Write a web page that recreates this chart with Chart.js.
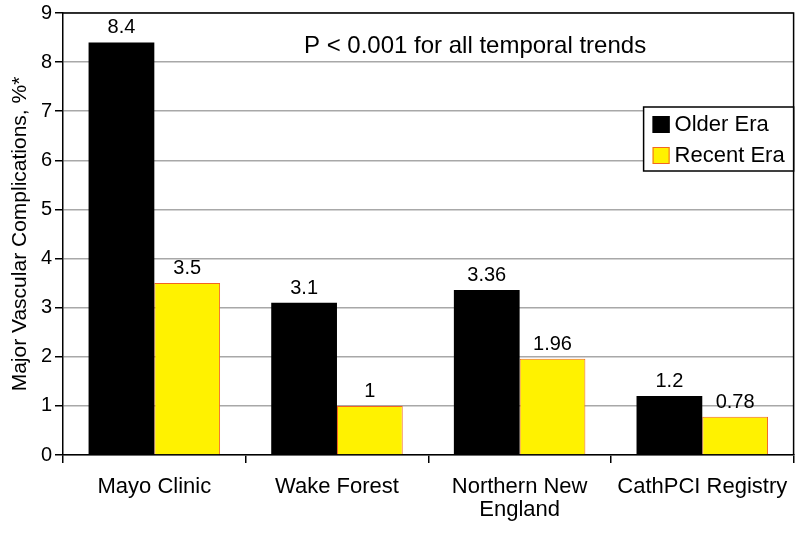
<!DOCTYPE html>
<html>
<head>
<meta charset="utf-8">
<script src="https://cdn.jsdelivr.net/npm/chart.js@4"></script>
<style>
  html, body { margin: 0; padding: 0; background: #fff; }
  #wrap { width: 800px; height: 533px; }
</style>
</head>
<body>
<div id="wrap"><canvas id="chart" width="800" height="533"></canvas></div>
<script>
// chart data
const sites = [['Mayo Clinic'], ['Wake Forest'], ['Northern New', 'England'], ['CathPCI Registry']];
const olderEra = [8.4, 3.1, 3.36, 1.2];
const recentEra = [3.5, 1, 1.96, 0.78];
const olderLabels = ['8.4', '3.1', '3.36', '1.2'];
const recentLabels = ['3.5', '1', '1.96', '0.78'];
const yTicks = [0, 1, 2, 3, 4, 5, 6, 7, 8, 9];
const note = 'P < 0.001 for all temporal trends';

const FONT = '"Liberation Sans", Arial, Helvetica, sans-serif';

// value labels above each bar
const valueLabels = {
  id: 'valueLabels',
  afterDatasetsDraw(chart) {
    const ctx = chart.ctx;
    const texts = [olderLabels, recentLabels];
    ctx.save();
    ctx.font = '20px ' + FONT;
    ctx.fillStyle = '#000';
    ctx.textAlign = 'center';
    ctx.textBaseline = 'alphabetic';
    chart.data.datasets.forEach((ds, i) => {
      chart.getDatasetMeta(i).data.forEach((bar, j) => {
        ctx.fillText(texts[i][j], bar.x, bar.y - 9);
      });
    });
    ctx.restore();
  }
};

// box around plot, note text and legend
const frame = {
  id: 'frame',
  afterDraw(chart) {
    const ctx = chart.ctx;
    const a = chart.chartArea;
    ctx.save();
    ctx.strokeStyle = '#000';
    ctx.lineWidth = 1.5;
    ctx.beginPath();
    ctx.moveTo(a.left, a.top);
    ctx.lineTo(a.right, a.top);
    ctx.lineTo(a.right, a.bottom);
    ctx.stroke();

    ctx.font = '24px ' + FONT;
    ctx.fillStyle = '#000';
    ctx.textAlign = 'center';
    ctx.textBaseline = 'alphabetic';
    ctx.fillText(note, a.left + (a.right - a.left) * 0.564, a.top + 40);

    // legend box
    const bw = 150, bh = 64;
    const bx = a.right - bw, by = a.top + 94;
    ctx.fillStyle = '#fff';
    ctx.fillRect(bx, by, bw, bh);
    ctx.lineWidth = 1.5;
    ctx.strokeRect(bx, by, bw, bh);
    const ds = chart.data.datasets;
    ds.forEach((d, i) => {
      const cy = by + 17 + i * 31;
      ctx.fillStyle = d.backgroundColor;
      ctx.fillRect(bx + 9, cy - 8, 17, 17);
      ctx.strokeStyle = d.borderColor;
      ctx.lineWidth = 1;
      ctx.strokeRect(bx + 9.5, cy - 7.5, 16, 16);
      ctx.fillStyle = '#000';
      ctx.font = '22px ' + FONT;
      ctx.textAlign = 'left';
      ctx.textBaseline = 'middle';
      ctx.fillText(d.label, bx + 31, cy + 1);
    });
    ctx.restore();
  }
};

new Chart(document.getElementById('chart'), {
  type: 'bar',
  data: {
    labels: sites,
    datasets: [
      {
        label: 'Older Era',
        data: olderEra,
        backgroundColor: '#000000',
        borderColor: '#000000',
        borderWidth: 0
      },
      {
        label: 'Recent Era',
        data: recentEra,
        backgroundColor: '#fff200',
        borderColor: '#f26522',
        borderWidth: 1
      }
    ]
  },
  options: {
    responsive: false,
    animation: false,
    layout: { padding: { top: 13, right: 6, bottom: 0, left: 0 } },
    datasets: {
      bar: { categoryPercentage: 0.72, barPercentage: 1 }
    },
    plugins: {
      legend: { display: false },
      tooltip: { enabled: false }
    },
    scales: {
      x: {
        afterFit(axis) { axis.height = 78; },
        grid: {
          offset: true,
          drawOnChartArea: false,
          drawTicks: true,
          tickLength: 8,
          color: '#000',
          lineWidth: 1.5
        },
        border: { color: '#000', width: 1.5 },
        ticks: {
          color: '#000',
          font: { family: FONT, size: 22, lineHeight: 1.05 },
          padding: 12,
          maxRotation: 0
        }
      },
      y: {
        min: 0,
        max: 9,
        afterBuildTicks(axis) {
          axis.ticks = yTicks.map(v => ({ value: v }));
        },
        afterFit(axis) {
          axis.width = 63;
          axis.paddingTop = 0;
          axis.paddingBottom = 0;
        },
        grid: {
          color: '#a8a8a8',
          lineWidth: 1.5,
          tickLength: 8,
          tickColor: '#000'
        },
        border: { color: '#000', width: 1.5 },
        ticks: {
          color: '#000',
          font: { family: FONT, size: 20 },
          padding: 3
        },
        title: {
          display: true,
          text: 'Major Vascular Complications, %*',
          color: '#000',
          font: { family: FONT, size: 21 },
          padding: { top: 8, bottom: 0 }
        }
      }
    }
  },
  plugins: [valueLabels, frame]
});
</script>
</body>
</html>
